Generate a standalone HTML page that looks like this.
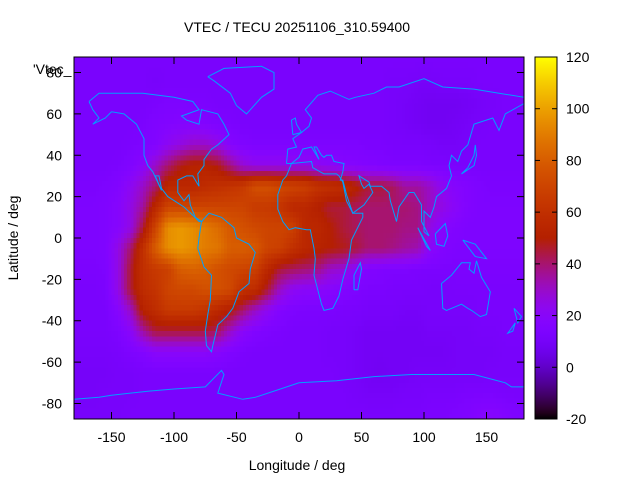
<!DOCTYPE html>
<html><head><meta charset="utf-8"><style>
html,body{margin:0;padding:0;background:#fff;}
svg{display:block;font-family:"Liberation Sans",sans-serif;}
</style></head><body>
<svg id="chart" width="640" height="480" viewBox="0 0 640 480">
<text x="297" y="32" font-size="14" text-anchor="middle">VTEC / TECU 20251106_310.59400</text>
<text x="297" y="470" font-size="14" text-anchor="middle">Longitude / deg</text>
<text x="18" y="238" font-size="14" text-anchor="middle" transform="rotate(-90 18 238)">Latitude / deg</text>
<g id="cells" shape-rendering="crispEdges"></g>
<g id="coast"></g>
<g id="axes"></g>
<g id="cbar"></g>
<text x="33" y="74" font-size="14">'Vtec_</text>
</svg>
<script>
const lonCenters = [-175,-165,-155,-145,-135,-125,-115,-105,-95,-85,-75,-65,-55,-45,-35,-25,-15,-5,5,15,25,35,45,55,65,75,85,95,105,115,125,135,145,155,165,175];
const latCenters = [85,75,65,55,45,35,25,15,5,-5,-15,-25,-35,-45,-55,-65,-75,-85];
const vtecRows = [
"12 12 12 12 12 12 12 12 12 12 12 12 12 12 12 12 12 12 12 12 12 12 12 12 12 12 12 12 12 12 12 12 12 12 12 12",
"12 12 12 12 12 12 11 12 12 12 12 12 12 12 12 12 12 12 12 12 12 12 12 12 12 11 11 10 10 11 11 11 12 12 12 12",
"12 12 12 12 12 12 13 14 14 13 13 12 12 12 12 12 12 12 12 12 12 12 12 12 12 11 10 9 8 8 8 9 10 11 12 12",
"12 12 12 12 12 13 15 16 17 17 16 14 13 12 12 12 12 12 12 12 12 12 12 12 12 11 10 9 8 8 9 10 11 12 12 12",
"12 12 12 12 13 14 16 22 26 30 30 26 18 15 14 14 14 14 14 14 14 14 14 13 13 12 12 12 11 10 10 11 12 12 12 12",
"12 12 12 13 15 20 30 40 48 52 52 48 38 28 24 24 24 24 24 22 20 18 17 16 15 14 14 14 13 13 12 12 12 12 12 12",
"13 13 14 16 22 30 40 55 55 55 58 60 62 65 75 75 72 70 68 62 60 58 52 45 45 42 35 35 30 22 18 16 14 13 13 13",
"14 14 15 18 25 35 55 70 70 70 70 70 70 70 65 65 62 55 55 50 45 45 42 40 40 40 40 38 30 25 20 16 14 14 14 14",
"14 14 15 18 25 45 70 95 98 95 90 85 78 75 72 70 70 68 55 55 50 45 42 40 40 40 38 38 25 18 16 14 14 14 14 14",
"14 14 15 25 40 60 80 95 98 95 90 88 80 80 78 70 68 60 55 52 50 48 45 40 40 38 35 33 20 16 14 14 14 14 14 14",
"13 13 14 25 45 60 65 68 80 82 80 75 72 70 68 55 45 42 40 38 30 28 20 16 15 14 14 13 13 13 13 13 13 13 13 13",
"12 12 13 25 45 58 62 70 72 72 75 75 72 60 58 45 30 22 20 20 18 16 14 13 13 12 12 12 11 11 12 12 12 12 12 12",
"12 12 12 18 30 52 58 65 65 65 62 55 50 40 30 22 16 14 13 13 13 12 12 11 11 11 10 10 11 11 11 11 12 12 12 12",
"12 12 12 14 20 35 45 45 45 45 45 42 30 20 16 14 13 12 12 12 11 11 10 9 9 9 9 9 10 10 10 10 11 11 12 12",
"11 11 11 12 14 16 20 20 20 20 20 18 15 13 12 12 12 12 12 12 11 11 10 9 9 9 9 9 9 9 10 10 10 10 11 11",
"10 10 10 11 11 12 12 12 12 12 12 12 12 12 12 12 12 12 12 12 12 11 10 9 8 9 9 10 10 10 10 10 10 11 11 11",
"10 10 11 11 11 12 12 12 12 12 12 12 12 12 12 12 12 12 12 12 12 12 11 10 10 10 11 11 12 12 12 13 13 13 12 12",
"11 11 11 11 12 12 12 12 12 12 12 12 12 12 12 12 12 12 12 12 12 12 12 12 12 12 12 12 13 13 14 15 17 18 16 14"
];
const xTicks = [-150,-100,-50,0,50,100,150];
const yTicks = [-80,-60,-40,-20,0,20,40,60,80];
const cbTicks = [-20,0,20,40,60,80,100,120];

const NS="http://www.w3.org/2000/svg";
const PL=74,PR=524,PT=57,PB=419;
const LON0=-180,LON1=180,LAT0=-87.5,LAT1=87.5;
const CMIN=-20,CMAX=120;
function xs(lon){return PL+(lon-LON0)/(LON1-LON0)*(PR-PL);}
function ys(lat){return PB-(lat-LAT0)/(LAT1-LAT0)*(PB-PT);}
function color(v){
  let x=(v-CMIN)/(CMAX-CMIN);x=Math.max(0,Math.min(1,x));
  const r=Math.sqrt(x),g=x*x*x,b=Math.max(0,Math.sin(2*Math.PI*x));
  const h=c=>Math.round(Math.max(0,Math.min(1,c))*255);
  return `rgb(${h(r)},${h(g)},${h(b)})`;
}
function mk(tag,attrs,parent){const e=document.createElementNS(NS,tag);for(const k in attrs)e.setAttribute(k,attrs[k]);parent.appendChild(e);return e;}

const grid=vtecRows.map(r=>r.trim().split(/\s+/).map(Number));
function fracIndex(arr,v){
  const n=arr.length, step=arr[1]-arr[0];
  let f=(v-arr[0])/step; f=Math.max(0,Math.min(n-1,f));
  const i=Math.min(n-2,Math.floor(f)); return [i,f-i];
}
function sample(lon,lat){
  const [ci,cf]=fracIndex(lonCenters,lon);
  const [ri,rf]=fracIndex(latCenters,lat);
  const a=grid[ri][ci],b=grid[ri][ci+1],c=grid[ri+1][ci],d=grid[ri+1][ci+1];
  return (a*(1-cf)+b*cf)*(1-rf)+(c*(1-cf)+d*cf)*rf;
}
const cells=document.getElementById('cells');
const DLON=2.5,DLAT=2.5;
for(let lat=LAT1;lat>LAT0;lat-=DLAT){
  for(let lon=LON0;lon<LON1;lon+=DLON){
    const v=sample(lon+DLON/2,lat-DLAT/2);
    const r=mk('rect',{x:xs(lon).toFixed(2),y:ys(lat).toFixed(2),width:(xs(lon+DLON)-xs(lon)+0.6).toFixed(2),height:(ys(lat-DLAT)-ys(lat)+0.6).toFixed(2),fill:color(v)},cells);
    
    
  }
}

const coastLines={
"north-america":[[-168,66],[-160,70],[-140,70],[-125,70],[-100,68],[-85,66],[-80,62],[-94,59],[-90,57],[-80,55],[-78,62],[-65,60],[-60,55],[-56,50],[-65,45],[-70,43],[-76,38],[-76,35],[-81,31],[-80,25],[-82,27],[-85,30],[-90,30],[-97,28],[-97,22],[-92,18],[-88,21],[-87,16],[-83,10],[-78,8],[-80,8],[-85,11],[-92,15],[-105,20],[-110,24],[-112,30],[-115,30],[-110,23],[-117,32],[-121,35],[-124,40],[-124,48],[-130,55],[-140,60],[-150,61],[-155,58],[-165,55],[-160,58],[-165,62],[-168,66]],
"south-america":[[-78,8],[-72,12],[-62,10],[-52,5],[-50,0],[-40,-3],[-35,-7],[-39,-15],[-40,-22],[-48,-26],[-53,-34],[-58,-38],[-65,-42],[-67,-47],[-69,-52],[-70,-55],[-74,-52],[-75,-45],[-73,-37],[-71,-30],[-70,-18],[-76,-14],[-81,-5],[-80,0],[-78,8]],
"greenland":[[-73,78],[-60,82],[-30,83],[-20,80],[-20,72],[-30,68],[-42,60],[-50,64],[-55,70],[-68,76],[-73,78]],
"eurasia":[[-10,36],[-9,43],[-2,44],[-5,48],[2,51],[8,54],[10,58],[5,62],[15,69],[25,71],[40,67],[45,68],[60,70],[70,73],[80,73],[100,77],[115,73],[140,72],[160,70],[180,68],[180,65],[165,60],[160,52],[155,58],[140,55],[135,45],[130,42],[127,37],[122,40],[120,35],[122,30],[118,24],[110,20],[108,15],[105,10],[100,13],[100,3],[104,1],[98,8],[98,16],[92,22],[88,22],[80,15],[78,8],[73,18],[72,22],[66,25],[57,25],[56,27],[48,30],[50,26],[52,24],[56,26],[59,22],[52,16],[43,12],[38,21],[35,28],[33,28],[35,32],[36,36],[28,37],[26,40],[22,40],[20,39],[18,40],[14,44],[12,44],[16,38],[10,44],[3,43],[0,39],[-6,36],[-10,36]],
"africa":[[-6,36],[10,37],[11,34],[20,31],[30,31],[32,30],[35,27],[38,18],[43,12],[51,12],[51,10],[42,-1],[40,-10],[35,-20],[32,-28],[27,-34],[20,-35],[18,-32],[12,-18],[13,-10],[12,-5],[9,4],[6,4],[-3,5],[-8,4],[-13,8],[-17,14],[-17,21],[-13,28],[-10,30],[-6,36]],
"australia":[[114,-22],[122,-18],[130,-12],[137,-12],[136,-15],[140,-17],[142,-11],[146,-19],[153,-26],[150,-37],[145,-38],[138,-35],[135,-34],[130,-32],[118,-35],[115,-34],[114,-22]],
"antarctica":[[-180,-78],[-160,-77],[-150,-76],[-120,-74],[-100,-73],[-75,-72],[-62,-64],[-60,-66],[-65,-75],[-45,-78],[-35,-77],[-20,-74],[0,-70],[30,-69],[60,-67],[90,-66],[120,-66],[140,-66],[165,-70],[170,-72],[180,-72]],
"madagascar":[[44,-25],[47,-25],[50,-15],[49,-12],[44,-18],[44,-25]],
"britain":[[-5,50],[2,51],[-2,55],[-3,58],[-6,57],[-5,50]],
"japan":[[130,31],[140,35],[142,40],[141,45],[140,40],[135,34],[130,31]],
"borneo":[[109,2],[117,7],[119,1],[116,-4],[110,-3],[109,2]],
"sumatra":[[95,5],[105,-6],[102,-4],[95,5]],
"new-guinea":[[131,-1],[141,-3],[150,-10],[141,-9],[131,-1]],
"new-zealand":[[172,-34],[178,-38],[175,-41],[172,-34]],
"nz-south":[[173,-41],[171,-45],[167,-46],[173,-41]]
};
const coast=document.getElementById('coast');
for(const k in coastLines){
  const p=mk('polyline',{points:coastLines[k].map(q=>xs(q[0]).toFixed(1)+','+ys(q[1]).toFixed(1)).join(' '),fill:'none',stroke:'#00a0ff','stroke-width':1},coast);
  
  
}

const axes=document.getElementById('axes');
mk('rect',{x:PL,y:PT,width:PR-PL,height:PB-PT,fill:'none',stroke:'#000','stroke-width':1},axes);
xTicks.forEach(t=>{
  const x=xs(t);
  mk('line',{x1:x,y1:PB,x2:x,y2:PB-7,stroke:'#000'},axes);
  mk('line',{x1:x,y1:PT,x2:x,y2:PT+7,stroke:'#000'},axes);
  const tx=mk('text',{x:x,y:442,'font-size':14,'text-anchor':'middle'},axes);
  tx.textContent=t;
  
  
});
yTicks.forEach(t=>{
  const y=ys(t);
  mk('line',{x1:PL,y1:y,x2:PL+7,y2:y,stroke:'#000'},axes);
  mk('line',{x1:PR,y1:y,x2:PR-7,y2:y,stroke:'#000'},axes);
  const ty=mk('text',{x:62,y:y+5,'font-size':14,'text-anchor':'end'},axes);
  ty.textContent=t;
  
  
});

const cbar=document.getElementById('cbar');
const CX=535,CW=22;
const defs=mk('defs',{},cbar);
const grad=mk('linearGradient',{id:'cg',x1:0,y1:1,x2:0,y2:0},defs);
for(let i=0;i<=60;i++){const v=CMIN+(CMAX-CMIN)*i/60;mk('stop',{offset:(i/60),'stop-color':color(v)},grad);}
function cy(v){return PB-(v-CMIN)/(CMAX-CMIN)*(PB-PT);}
mk('rect',{x:CX,y:PT,width:CW,height:PB-PT,fill:'url(#cg)',stroke:'#000','stroke-width':1},cbar);
cbTicks.forEach(t=>{
  const y=cy(t);
  mk('line',{x1:CX,y1:y,x2:CX+5,y2:y,stroke:'#000'},cbar);
  mk('line',{x1:CX+CW,y1:y,x2:CX+CW-5,y2:y,stroke:'#000'},cbar);
  const tl=mk('text',{x:566,y:y+5,'font-size':14},cbar);
  tl.textContent=t;
  
  
});
</script>
</body></html>
